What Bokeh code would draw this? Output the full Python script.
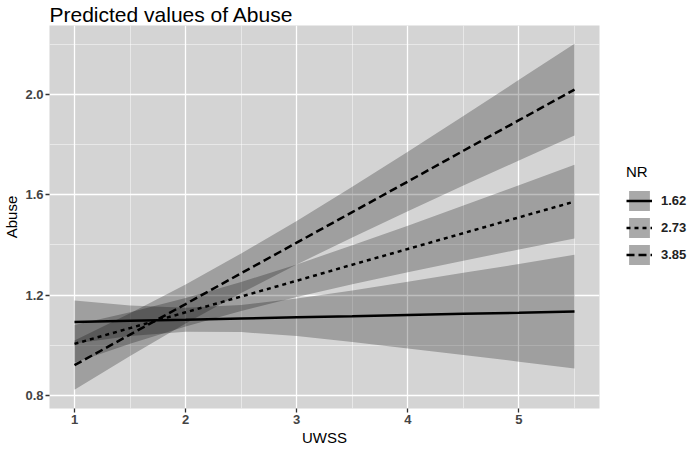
from bokeh.plotting import figure
from bokeh.models import (FixedTicker, Legend, LegendItem, Range1d, ColumnDataSource)
from bokeh.embed import file_html
from bokeh.resources import INLINE

# ---- data ----
uwss = [1.0, 1.5, 2.0, 2.5, 3.0, 3.5, 4.0, 4.5, 5.0, 5.5]
nr_levels = ["1.62", "2.73", "3.85"]

pred_162 = [1.092, 1.097, 1.101, 1.106, 1.111, 1.115, 1.120, 1.125, 1.129, 1.134]
low_162 = [1.006, 1.036, 1.053, 1.052, 1.036, 1.012, 0.987, 0.961, 0.934, 0.907]
high_162 = [1.178, 1.158, 1.149, 1.160, 1.186, 1.218, 1.253, 1.289, 1.324, 1.361]

pred_273 = [1.005, 1.068, 1.131, 1.194, 1.257, 1.321, 1.384, 1.447, 1.510, 1.573]
low_273 = [0.930, 1.005, 1.074, 1.136, 1.192, 1.243, 1.291, 1.337, 1.382, 1.426]
high_273 = [1.080, 1.131, 1.188, 1.252, 1.322, 1.399, 1.477, 1.557, 1.638, 1.720]

pred_385 = [0.920, 1.042, 1.164, 1.287, 1.409, 1.531, 1.653, 1.776, 1.898, 2.020]
low_385 = [0.822, 0.957, 1.086, 1.208, 1.322, 1.430, 1.534, 1.637, 1.737, 1.837]
high_385 = [1.018, 1.127, 1.242, 1.366, 1.496, 1.632, 1.772, 1.915, 2.059, 2.203]

x_ticks = [1, 2, 3, 4, 5]
y_ticks = [0.8, 1.2, 1.6, 2.0]
y_tick_labels = ["0.8", "1.2", "1.6", "2.0"]

# ---- figure ----
FONT = "Liberation Sans"
p = figure(frame_width=550, frame_height=383, output_backend="svg", toolbar_location=None,
           x_range=Range1d(0.775, 5.725), y_range=Range1d(0.747, 2.276),
           title="Predicted values of Abuse")
p.min_border_left = 0
p.min_border_right = 89
p.min_border_top = 0
p.min_border_bottom = 0
p.outline_line_color = None
p.background_fill_color = "#d4d4d4"
p.border_fill_color = "white"

p.title.text_font = FONT
p.title.text_font_size = "21px"
p.title.text_font_style = "normal"
p.title.text_color = "black"
p.title.standoff = 0
p.title.offset = 0

# grids
p.xaxis.ticker = FixedTicker(ticks=x_ticks, minor_ticks=[0.5, 1.5, 2.5, 3.5, 4.5, 5.5])
p.yaxis.ticker = FixedTicker(ticks=y_ticks, minor_ticks=[1.0, 1.4, 1.8, 2.2])
p.yaxis.major_label_overrides = {t: l for t, l in zip(y_ticks, y_tick_labels)}
for g in (p.xgrid, p.ygrid):
    g.grid_line_color = "white"
    g.grid_line_width = 1.3
    g.minor_grid_line_color = "white"
    g.minor_grid_line_width = 0.6
    g.minor_grid_line_alpha = 0.8

for ax in (p.xaxis, p.yaxis):
    ax.axis_line_color = None
    ax.major_tick_in = 0
    ax.major_tick_out = 4
    ax.major_tick_line_color = "#333333"
    ax.major_tick_line_width = 1.3
    ax.minor_tick_line_color = None
    ax.major_label_text_font = FONT
    ax.major_label_text_font_size = "13px"
    ax.major_label_text_font_style = "bold"
    ax.major_label_text_color = "#444444"
    ax.axis_label_text_font = FONT
    ax.axis_label_text_font_size = "15px"
    ax.axis_label_text_font_style = "normal"
    ax.axis_label_text_color = "black"
    ax.major_label_standoff = 2
    ax.axis_label_standoff = 2
p.xaxis.axis_label = "UWSS"
p.yaxis.axis_label = "Abuse"

series = [
    ("1.62", pred_162, low_162, high_162, "solid"),
    ("2.73", pred_273, low_273, high_273, "4 4"),
    ("3.85", pred_385, low_385, high_385, "8 4"),
]

for label, pred, lo, hi, dash in series:
    src = ColumnDataSource(dict(x=uwss, y=pred, lo=lo, hi=hi))
    p.varea(x="x", y1="lo", y2="hi", source=src, fill_color="black", fill_alpha=0.25)

nan = float("nan")
items = []
for label, pred, lo, hi, dash in series:
    src = ColumnDataSource(dict(x=uwss, y=pred))
    r = p.line(x="x", y="y", source=src, line_color="black", line_width=2.5,
               line_dash=dash)
    # legend key background only (NaN => not drawn in the plot area)
    key = p.quad(left=[nan], right=[nan], top=[nan], bottom=[nan],
                 fill_color="#a9a9a9", line_color=None)
    items.append(LegendItem(label=label, renderers=[key, r]))

legend = Legend(items=items, title="NR", location=(27, 141))
legend.title_text_font = FONT
legend.title_text_font_size = "15px"
legend.title_text_font_style = "normal"
legend.title_text_color = "black"
legend.title_standoff = 8
legend.label_text_font = FONT
legend.label_text_font_size = "13px"
legend.label_text_font_style = "bold"
legend.label_text_color = "#222222"
legend.glyph_width = 26
legend.glyph_height = 25
legend.label_height = 25
legend.spacing = 2
legend.label_standoff = 9
legend.padding = 6
legend.margin = 0
legend.border_line_color = None
legend.background_fill_color = "white"
p.add_layout(legend, "right")

open("out.html", "w").write(file_html(p, INLINE))
